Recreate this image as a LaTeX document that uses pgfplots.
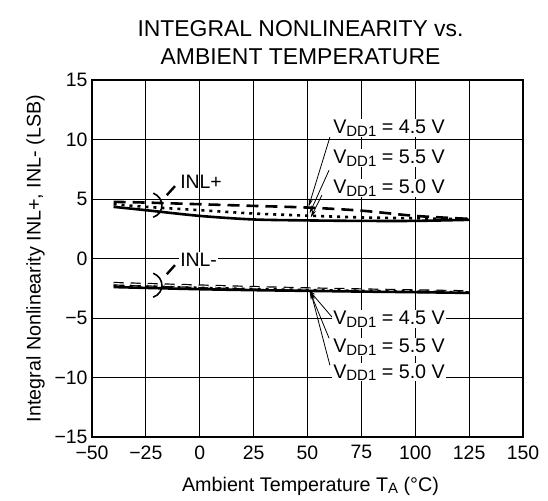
\documentclass[border=0pt]{standalone}
\usepackage{fontspec}
\setmainfont{Liberation Sans}
\usepackage{pgfplots}
\pgfplotsset{compat=1.18}
\usetikzlibrary{arrows.meta,calc}

\newcommand\sub[1]{\raisebox{-0.22ex}{\fontsize{15}{15}\selectfont #1}}
\newcommand\vdd{V\sub{DD1}}

\begin{document}
\begin{tikzpicture}
\begin{axis}[
  name=ax,
  scale only axis,
  width=431bp, height=357bp,
  xmin=-50, xmax=150, ymin=-15, ymax=15,
  xtick={-50,-25,0,25,50,75,100,125,150},
  xticklabels={−50,−25,0,25,50,75,100,125,150},
  ytick={-15,-10,-5,0,5,10,15},
  yticklabels={−15,−10,−5,0,5,10,15},
  major tick length=0pt,
  tick label style={font=\fontsize{19.5}{19.5}\selectfont},
  xticklabel style={yshift=-5bp},
  yticklabel style={xshift=-1bp},
  grid=major,
  major grid style={black, line width=0.9bp},
  axis line style={black, line width=1.8bp},
  xlabel={Ambient Temperature T\sub{A} (°C)},
  ylabel={Integral Nonlinearity INL+, INL- (LSB)},
  label style={font=\fontsize{19.8}{19.8}\selectfont},
  xlabel style={yshift=-11bp, xshift=3bp},
  ylabel style={yshift=3bp},
  title={INTEGRAL NONLINEARITY vs.\\AMBIENT TEMPERATURE},
  title style={font=\fontsize{23}{28}\selectfont, align=center, xshift=-7bp, yshift=6bp},
  clip=false,
]
% INL+
\addplot[black, line width=2.6bp, dash pattern=on 12bp off 7bp, smooth]
  coordinates {(-40,4.76) (-25,4.7) (0,4.56) (25,4.42) (50,4.28) (75,4.02) (100,3.58) (125,3.33)};
\addplot[black, line width=2.6bp, dash pattern=on 3bp off 5bp, smooth]
  coordinates {(-40,4.56) (-25,4.34) (0,4.06) (25,3.78) (50,3.6) (75,3.45) (100,3.38) (125,3.3)};
\addplot[black, line width=2.6bp, smooth]
  coordinates {(-40,4.34) (-25,4.06) (0,3.58) (25,3.28) (50,3.2) (75,3.16) (100,3.16) (125,3.25)};
% INL-
\addplot[black, line width=1.2bp, double=white, double distance=1.3bp, dash pattern=on 10bp off 7bp, smooth]
  coordinates {(-40,-2.12) (-25,-2.2) (0,-2.33) (25,-2.46) (50,-2.57) (75,-2.66) (100,-2.74) (125,-2.82)};
\addplot[black, line width=2.6bp, dash pattern=on 3bp off 5bp, smooth]
  coordinates {(-40,-2.3) (-25,-2.36) (0,-2.47) (25,-2.57) (50,-2.65) (75,-2.72) (100,-2.78) (125,-2.85)};
\addplot[black, line width=2.6bp, smooth]
  coordinates {(-40,-2.4) (-25,-2.47) (0,-2.58) (25,-2.66) (50,-2.72) (75,-2.78) (100,-2.83) (125,-2.89)};

% brackets and group labels
\draw[line width=1.6bp] (axis cs:-21.6,5.49) .. controls (axis cs:-16.2,5.1) and (axis cs:-16.2,3.8) .. (axis cs:-21.6,3.47);
\draw[line width=2.4bp] (axis cs:-15.3,5.32) -- (axis cs:-11.5,6.08);
\node[anchor=west, inner sep=1bp, font=\fontsize{19.5}{19.5}\selectfont] at (axis cs:-9.6,6.44) {INL+};
\draw[line width=1.6bp] (axis cs:-21.6,-1.24) .. controls (axis cs:-16.2,-1.63) and (axis cs:-16.2,-2.9) .. (axis cs:-21.6,-3.25);
\draw[line width=2.4bp] (axis cs:-15.3,-1.32) -- (axis cs:-11.5,-0.56);
\node[anchor=west, inner sep=1bp, fill=white, font=\fontsize{19.5}{19.5}\selectfont] at (axis cs:-9.6,-0.14) {INL-};

% supply labels
\begin{scope}[every node/.style={anchor=west, fill=white, inner sep=1bp, font=\fontsize{19.8}{19.8}\selectfont}]
\node at (axis cs:61.4,10.95) {\vdd\ = 4.5 V};
\node at (axis cs:61.4,8.43) {\vdd\ = 5.5 V};
\node at (axis cs:61.4,5.91) {\vdd\ = 5.0 V};
\node at (axis cs:61.4,-5.1) {\vdd\ = 4.5 V};
\node at (axis cs:61.4,-7.45) {\vdd\ = 5.5 V};
\node at (axis cs:61.4,-9.56) {\vdd\ = 5.0 V};
\end{scope}
\begin{scope}[line width=0.8bp, -{Stealth[length=8bp, width=4bp]}]
\draw (axis cs:60.4,10.2) -- (axis cs:50.5,4.35);
\draw (axis cs:60,7.42) -- (axis cs:51,3.8);
\draw (axis cs:56.7,5.32) -- (axis cs:51.5,3.45);
\draw (axis cs:61.4,-4.93) -- (axis cs:50.5,-2.62);
\draw (axis cs:60,-6.7) -- (axis cs:51,-2.72);
\draw (axis cs:60.4,-8.97) -- (axis cs:51.5,-2.8);
\end{scope}
\end{axis}
\pgfresetboundingbox
\path[use as bounding box] ($(ax.south west)+(-92bp,-64bp)$) rectangle ($(ax.north east)+(25bp,80bp)$);
\end{tikzpicture}
\end{document}
